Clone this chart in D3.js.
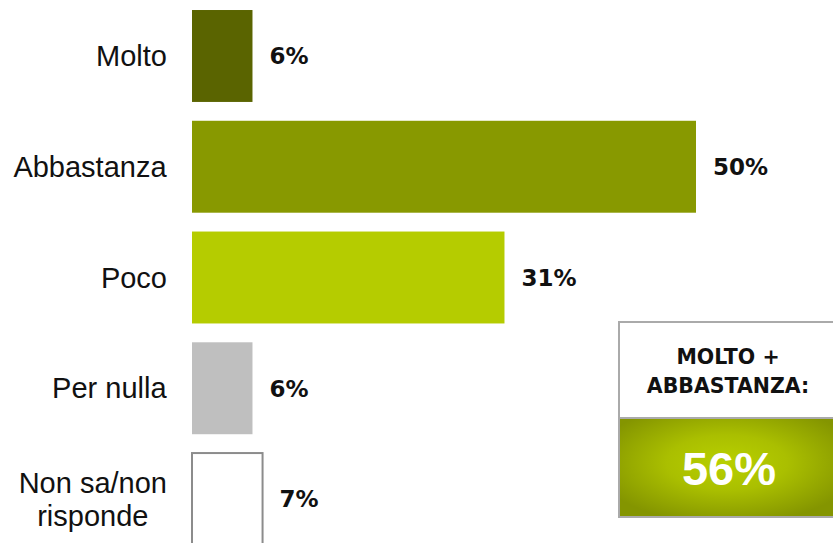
<!DOCTYPE html>
<html>
<head>
<meta charset="utf-8">
<script src="https://cdn.jsdelivr.net/npm/d3@7"></script>
<style>
    html, body { margin: 0; padding: 0; background: #fff; }
    svg { display: block; }
</style>
</head>
<body>
<svg id="chart" width="833" height="543"></svg>
<script>
const categories = ['Molto', 'Abbastanza', 'Poco', 'Per nulla', 'Non sa/non risponde'];
const categoryLines = [['Molto'], ['Abbastanza'], ['Poco'], ['Per nulla'], ['Non sa/non', 'risponde']];
const values = [6, 50, 31, 6, 7];
const barColors = ['#5a6400', '#889900', '#b5cc00', '#bfbfbf', '#ffffff'];
const summaryTitle = ['MOLTO +', 'ABBASTANZA:'];
const summaryValue = 56;

const svg = d3.select('#chart');

const x = d3.scaleLinear().domain([0, 50]).range([192, 696]);
const y = d3.scaleBand()
    .domain(categories)
    .range([0.6, 554.4])
    .paddingInner(0.17)
    .paddingOuter(0.085);

// bars
svg.append('g').selectAll('rect')
    .data(categories)
    .enter().append('rect')
    .attr('x', x(0))
    .attr('y', d => y(d))
    .attr('width', (d, i) => x(values[i]) - x(0))
    .attr('height', y.bandwidth())
    .attr('fill', (d, i) => barColors[i])
    .attr('stroke', (d, i) => barColors[i] === '#ffffff' ? '#8c8c8c' : 'none')
    .attr('stroke-width', 2);

// value labels
svg.append('g').selectAll('text')
    .data(categories)
    .enter().append('text')
    .attr('x', (d, i) => x(values[i]) + 17)
    .attr('y', d => y(d) + y.bandwidth() / 2)
    .attr('dy', '0.36em')
    .attr('font-family', 'DejaVu Sans, sans-serif')
    .attr('font-weight', 700)
    .attr('font-size', 23)
    .attr('fill', '#111')
    .text((d, i) => values[i] + '%');

// category labels
const labelRight = 167;
const labelGroup = svg.append('g')
    .attr('font-family', 'Liberation Sans, Arial, sans-serif')
    .attr('font-size', 29)
    .attr('fill', '#111');

categories.forEach((cat, i) => {
    const lines = categoryLines[i];
    const cy = y(cat) + y.bandwidth() / 2;
    const lh = 33;
    const t = labelGroup.append('text').attr('text-anchor', 'middle');
    lines.forEach((ln, j) => {
        t.append('tspan')
            .attr('x', 0)
            .attr('y', cy + (j - (lines.length - 1) / 2) * lh)
            .attr('dy', '0.35em')
            .text(ln);
    });
    const w = t.node().getBBox().width;
    t.selectAll('tspan').attr('x', labelRight - w / 2);
});

// summary box
const box = { x: 619, y: 322, w: 216, top: 96, bottom: 99 };
const defs = svg.append('defs');
const grad = defs.append('radialGradient')
    .attr('id', 'boxGrad')
    .attr('cx', '50%').attr('cy', '45%').attr('r', '62%');
grad.append('stop').attr('offset', '0%').attr('stop-color', '#b8d000');
grad.append('stop').attr('offset', '45%').attr('stop-color', '#aabf00');
grad.append('stop').attr('offset', '100%').attr('stop-color', '#849500');

svg.append('rect')
    .attr('x', box.x).attr('y', box.y)
    .attr('width', box.w).attr('height', box.top)
    .attr('fill', '#fff');
svg.append('rect')
    .attr('x', box.x).attr('y', box.y + box.top)
    .attr('width', box.w).attr('height', box.bottom)
    .attr('fill', 'url(#boxGrad)');
svg.append('rect')
    .attr('x', box.x).attr('y', box.y)
    .attr('width', box.w).attr('height', box.top + box.bottom)
    .attr('fill', 'none')
    .attr('stroke', '#aaaaaa')
    .attr('stroke-width', 2);
svg.append('line')
    .attr('x1', box.x).attr('x2', box.x + box.w)
    .attr('y1', box.y + box.top).attr('y2', box.y + box.top)
    .attr('stroke', '#aaaaaa')
    .attr('stroke-width', 2);

const cx = 728;
svg.append('g').selectAll('text')
    .data(summaryTitle)
    .enter().append('text')
    .attr('x', cx)
    .attr('y', (d, i) => 357 + i * 29)
    .attr('dy', '0.36em')
    .attr('text-anchor', 'middle')
    .attr('font-family', 'DejaVu Sans, sans-serif')
    .attr('font-weight', 700)
    .attr('font-size', 20.5)
    .attr('fill', '#111')
    .text(d => d);

svg.append('text')
    .attr('x', cx + 1)
    .attr('y', 468)
    .attr('dy', '0.36em')
    .attr('text-anchor', 'middle')
    .attr('font-family', 'Liberation Sans, Arial, sans-serif')
    .attr('font-weight', 700)
    .attr('font-size', 47)
    .attr('fill', '#fff')
    .text(summaryValue + '%');
</script>
</body>
</html>
